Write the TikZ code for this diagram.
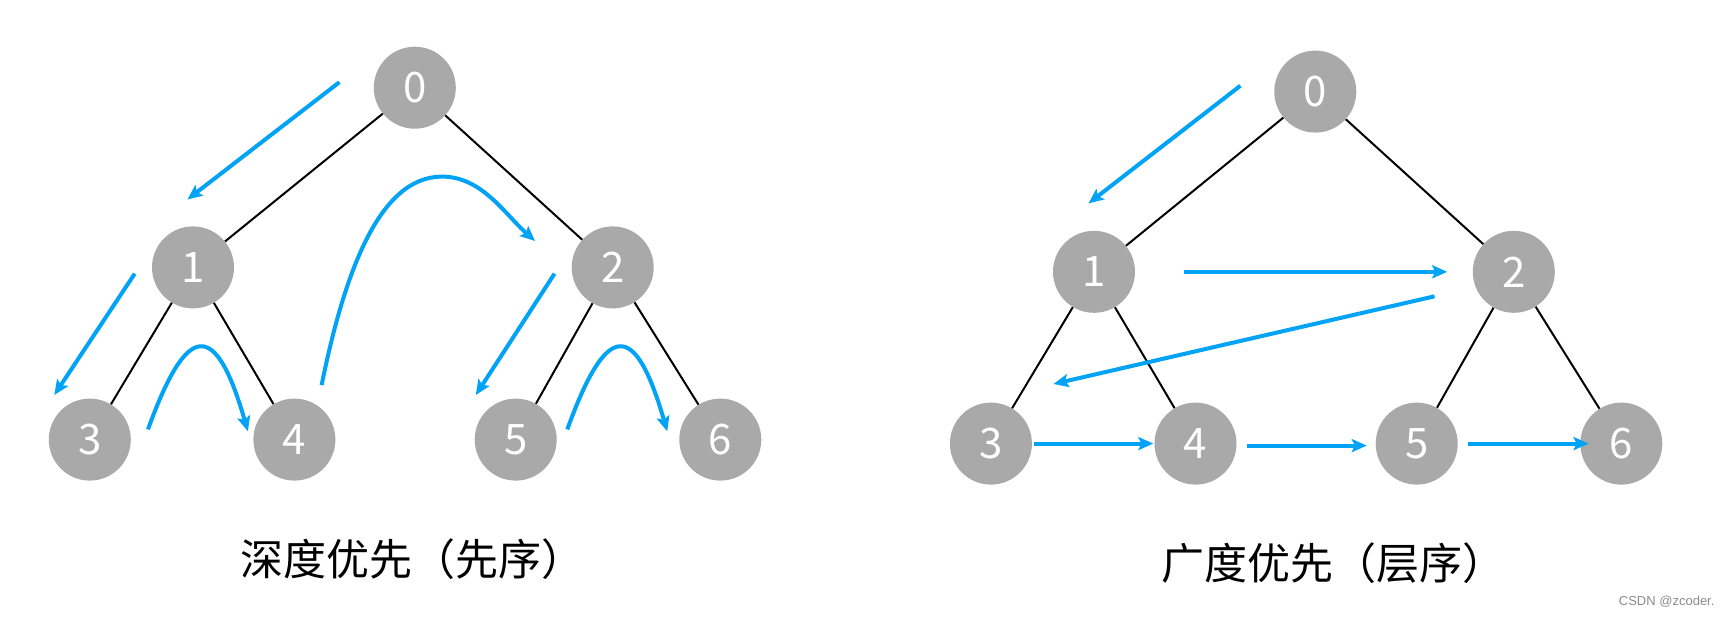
\documentclass[tikz,border=0pt]{standalone}
\usepackage{fontspec}
\setmainfont{Noto Sans CJK SC}
\newfontfamily\wmfont{Liberation Sans}
\usetikzlibrary{arrows.meta}
\definecolor{nodegray}{RGB}{169,169,169}
\definecolor{arrowblue}{RGB}{0,163,245}
\begin{document}
\begin{tikzpicture}[x=1pt,y=-1pt,
  tnode/.style={circle,fill=nodegray,minimum size=82pt,inner sep=0pt,text=white,font=\fontsize{42}{42}\selectfont},
  treeedge/.style={line width=2pt,black},
  trav/.style={line width=4pt,arrowblue,-{Stealth[length=15pt,width=13pt,inset=3pt]}},
  caption/.style={font=\fontsize{43}{43}\selectfont,text=black},
]
\useasboundingbox[fill=white] (0,0) rectangle (1730,616);

% ---- left tree (depth first) ----
\node[tnode] (a0) at (414.8,87.7) {0};
\node[tnode] (a1) at (193.0,267.4) {1};
\node[tnode] (a2) at (612.7,267.4) {2};
\node[tnode] (a3) at (89.8,439.6) {3};
\node[tnode] (a4) at (294.4,439.6) {4};
\node[tnode] (a5) at (515.7,439.6) {5};
\node[tnode] (a6) at (720.3,439.6) {6};
\draw[treeedge] (a0) -- (a1);
\draw[treeedge] (a0) -- (a2);
\draw[treeedge] (a1) -- (a3);
\draw[treeedge] (a1) -- (a4);
\draw[treeedge] (a2) -- (a5);
\draw[treeedge] (a2) -- (a6);

\coordinate (p1s) at (339.4,82.2);  \coordinate (p1e) at (187.4,199.5);
\coordinate (p2s) at (134.7,273.7); \coordinate (p2e) at (54.3,395);
\coordinate (p3s) at (148,429.4);   \coordinate (p3e) at (247.9,431.3);
\coordinate (p4s) at (321.6,385.1); \coordinate (p4m) at (442,176.6); \coordinate (p4e) at (535.1,241);
\coordinate (p5s) at (554.5,273.7); \coordinate (p5e) at (475.8,395);
\coordinate (p6s) at (567.3,429.4); \coordinate (p6e) at (667.2,431.3);
\draw[trav] (p1s) -- (p1e);
\draw[trav] (p2s) -- (p2e);
\draw[trav] (p3s) .. controls (187.4,320.2) and (215.7,319.8) .. (p3e);
\draw[trav] (p4s) .. controls (345,270) and (380,176.6) .. (p4m) .. controls (482,176.6) and (505,214.4) .. (p4e);
\draw[trav] (p5s) -- (p5e);
\draw[trav] (p6s) .. controls (606.7,320.2) and (635,319.8) .. (p6e);

\node[caption] (capa) at (412,559) {深度优先（先序）};

% ---- right tree (breadth first) ----
\node[tnode] (b0) at (1315.3,91.6) {0};
\node[tnode] (b1) at (1094.0,271.8) {1};
\node[tnode] (b2) at (1513.8,271.8) {2};
\node[tnode] (b3) at (990.9,443.6) {3};
\node[tnode] (b4) at (1195.5,443.6) {4};
\node[tnode] (b5) at (1416.7,443.6) {5};
\node[tnode] (b6) at (1621.3,443.6) {6};
\draw[treeedge] (b0) -- (b1);
\draw[treeedge] (b0) -- (b2);
\draw[treeedge] (b1) -- (b3);
\draw[treeedge] (b1) -- (b4);
\draw[treeedge] (b2) -- (b5);
\draw[treeedge] (b2) -- (b6);

\coordinate (q1s) at (1240.4,85.7);  \coordinate (q1e) at (1088.5,203.4);
\coordinate (q2s) at (1184.4,271.8); \coordinate (q2e) at (1447.2,271.8);
\coordinate (q3s) at (1434.5,296.3); \coordinate (q3e) at (1053.5,384);
\coordinate (q4s) at (1034.1,443.6); \coordinate (q4e) at (1153.3,443.6);
\coordinate (q5s) at (1246.5,445.6); \coordinate (q5e) at (1366.8,445.6);
\coordinate (q6s) at (1467.8,443.6); \coordinate (q6e) at (1588.6,443.6);
\draw[trav] (q1s) -- (q1e);
\draw[trav] (q2s) -- (q2e);
\draw[trav] (q3s) -- (q3e);
\draw[trav] (q4s) -- (q4e);
\draw[trav] (q5s) -- (q5e);
\draw[trav] (q6s) -- (q6e);

\node[caption] (capb) at (1333.5,563) {广度优先（层序）};

\node[anchor=east,font=\wmfont\fontsize{13}{13}\selectfont,text=black!45] (wm) at (1718,602) {CSDN @zcoder.};
\end{tikzpicture}
\end{document}
